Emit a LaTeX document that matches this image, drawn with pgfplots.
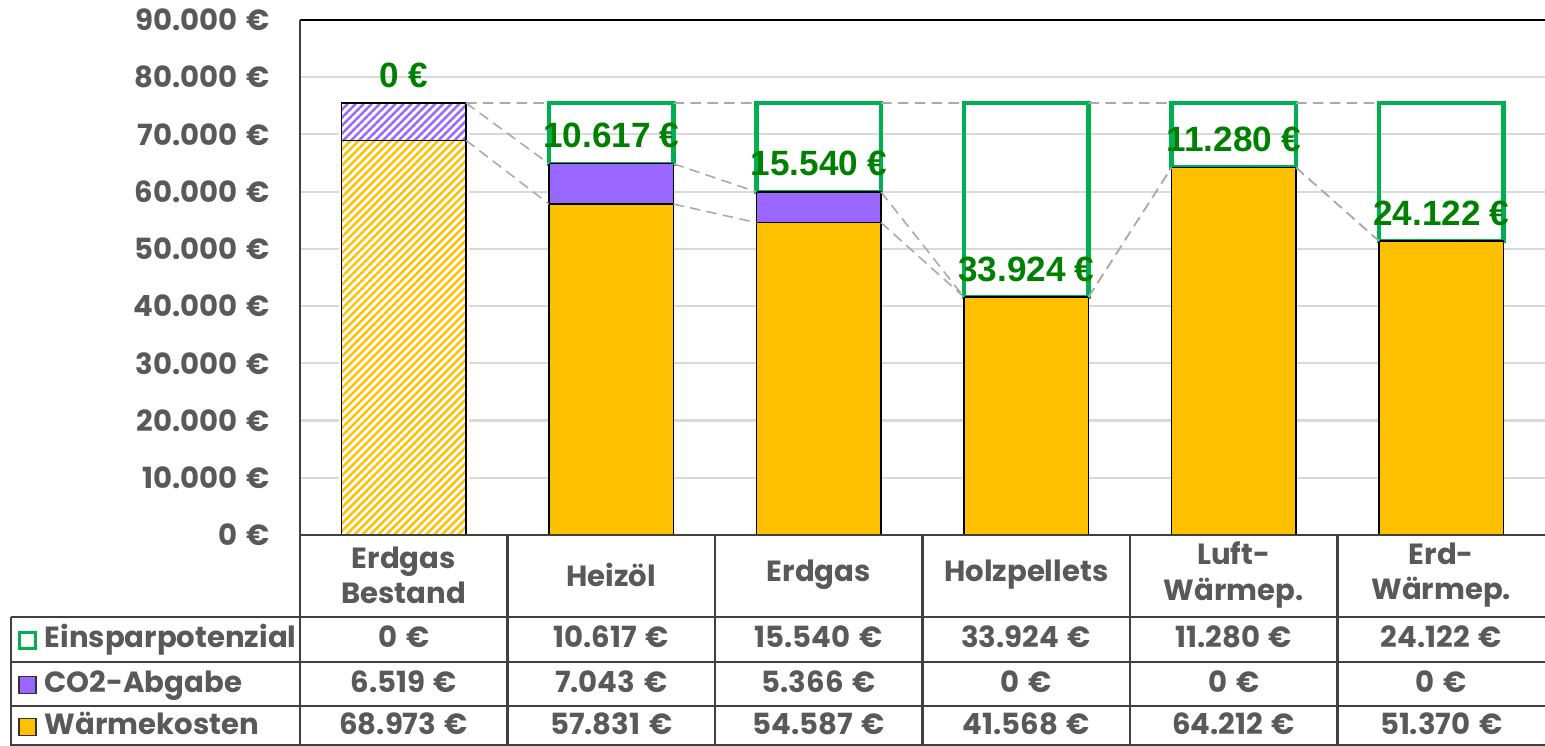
\documentclass[border=0pt]{standalone}
\usepackage{pgfplots}
\pgfplotsset{compat=1.18}
\usepackage{pgfplotstable}
\usetikzlibrary{patterns.meta}
\usepackage{fontspec}
\setmainfont{Poppins}
\newfontfamily\lblfont{Liberation Sans}

\definecolor{waerme}{RGB}{255,192,0}
\definecolor{co2}{RGB}{153,102,255}
\definecolor{einspar}{RGB}{0,176,80}
\definecolor{lblgreen}{RGB}{0,128,0}
\definecolor{txt}{RGB}{89,89,89}
\definecolor{gridc}{RGB}{217,217,217}
\definecolor{series}{RGB}{170,170,170}

% Wärmekosten, CO2-Abgabe, Einsparpotenzial
\pgfplotstableread{
x w c e
0 68973 6519 0
1 57831 7043 10617
2 54587 5366 15540
3 41568 0 33924
4 64212 0 11280
5 51370 0 24122
}\kosten

\pgfplotsset{
  base/.style={scale only axis, width=124.5mm, height=51.5mm,
    xmin=-0.5, xmax=5.5, ymin=0, ymax=90000, enlargelimits=false, clip=false},
}
\newcommand{\tfont}{\fontsize{8.3}{10}\selectfont\bfseries}
\newcommand{\eur}{\hspace{0.3em}€}

\begin{document}
\begin{tikzpicture}
\begin{axis}[base,
  axis line style={draw=none},
  xtick=\empty,
  ytick={0,10000,...,90000},
  scaled y ticks=false,
  ymajorgrids, grid style={gridc, line width=0.6pt},
  major tick length=0pt,
  yticklabel={\pgfmathprintnumber{\tick}\eur},
  yticklabel style={text=txt, font=\tfont, xshift=-1.8mm,
    /pgf/number format/fixed, /pgf/number format/1000 sep={.},
    /pgf/number format/assume math mode=true},
  ybar stacked, bar width=0.6,
]
\addplot[fill=waerme, draw=black, line width=0.4pt] table[x=x,y=w]{\kosten};
\addplot[fill=co2, draw=black, line width=0.4pt] table[x=x,y=c]{\kosten};
\addplot[fill=none, draw=einspar, line width=1.2pt] table[x=x,y=e]{\kosten};
\end{axis}

\begin{axis}[base, hide axis, unbounded coords=jump]
% Bestand: schraffiert
\addplot[ybar, bar width=0.6, bar shift=0pt, fill=white, draw=white, line width=1.6pt]
  table[x=x, y expr=\thisrow{w}+\thisrow{c}+\thisrow{e}, skip coords between index={1}{6}]{\kosten};
\addplot[ybar, bar width=0.6, bar shift=0pt, fill=white, draw=black, line width=0.4pt,
  postaction={pattern color=co2, pattern={Lines[angle=45,distance=1.6pt,line width=0.7pt]}}]
  table[x=x, y expr=\thisrow{w}+\thisrow{c}, skip coords between index={1}{6}]{\kosten};
\addplot[ybar, bar width=0.6, bar shift=0pt, fill=white, draw=black, line width=0.4pt,
  postaction={pattern color=waerme, pattern={Lines[angle=45,distance=1.6pt,line width=0.7pt]}}]
  table[x=x, y=w, skip coords between index={1}{6}]{\kosten};
% Reihenverbindungslinien
\addplot[series, line width=0.45pt, dash pattern=on 3pt off 1.8pt] coordinates {
  (0.3,68973) (0.7,57831) (1,nan) (1.3,57831) (1.7,54587) (2,nan)
  (2.3,54587) (2.7,41568) (3,nan) (3.3,41568) (3.7,64212) (4,nan)
  (4.3,64212) (4.7,51370)};
\addplot[series, line width=0.45pt, dash pattern=on 3pt off 1.8pt] coordinates {
  (0.3,75492) (0.7,64874) (1,nan) (1.3,64874) (1.7,59953) (2,nan)
  (2.3,59953) (2.7,41568) (3,nan) (3.3,41568) (3.7,64212) (4,nan)
  (4.3,64212) (4.7,51370)};
\addplot[series, line width=0.45pt, dash pattern=on 3pt off 1.8pt] coordinates {
  (0.3,75492) (0.7,75491) (1,nan) (1.3,75491) (1.7,75493) (2,nan)
  (2.3,75493) (2.7,75492) (3,nan) (3.3,75492) (3.7,75492) (4,nan)
  (4.3,75492) (4.7,75492)};
% Beschriftung Einsparpotenzial
\addplot[only marks, mark=none, point meta=\thisrow{e},
  nodes near coords={\pgfmathprintnumber[fixed,1000 sep={.},assume math mode=true]{\pgfplotspointmeta}\hspace{0.25em}€},
  nodes near coords align={center},
  every node near coord/.append style={anchor=center, text=lblgreen,
    font=\lblfont\fontsize{10}{12}\selectfont\bfseries}]
  table[x=x, y expr=\thisrow{w}+\thisrow{c}+4900]{\kosten};
\end{axis}

% Rahmen
\draw[black, line width=0.6pt] (0,51.5mm) -- (124.5mm,51.5mm);
\draw[black!75, line width=0.6pt] (0,0) -- (0,51.5mm);

% Datentabelle
\begin{scope}[line width=0.6pt, draw=black!75]
\draw (0,0) -- (124.5mm,0);
\foreach \yy in {-8.2,-12.7,-17.1,-21.0} \draw (-28.9mm,\yy mm) -- (124.5mm,\yy mm);
\foreach \xx in {0,20.75,41.5,62.25,83,103.75} \draw (\xx mm,0) -- (\xx mm,-21.1mm);
\draw (-28.9mm,-8.2mm) -- (-28.9mm,-21.1mm);
\end{scope}

\begin{scope}[every node/.style={text=txt, font=\tfont, align=center, inner sep=0pt}]
\foreach \lab [count=\i from 0] in {{Erdgas\\Bestand},Heizöl,Erdgas,Holzpellets,{Luft-\\Wärmep.},{Erd-\\Wärmep.}}
  \node at ({(\i+0.5)*20.75mm},-4.0mm) {\lab};
\end{scope}
\begin{scope}[every node/.style={text=txt, font=\tfont, inner sep=0pt, text height=2.1mm, text depth=0.6mm}]
\foreach \v [count=\i from 0] in {0,10.617,15.540,33.924,11.280,24.122}
  \node at ({(\i+0.5)*20.75mm},-10.55mm) {\v\eur};
\foreach \v [count=\i from 0] in {6.519,7.043,5.366,0,0,0}
  \node at ({(\i+0.5)*20.75mm},-15.0mm) {\v\eur};
\foreach \v [count=\i from 0] in {68.973,57.831,54.587,41.568,64.212,51.370}
  \node at ({(\i+0.5)*20.75mm},-19.2mm) {\v\eur};
\node[anchor=west] at (-25.6mm,-10.55mm) {Einsparpotenzial};
\node[anchor=west] at (-25.6mm,-15.0mm) {CO2-Abgabe};
\node[anchor=west] at (-25.6mm,-19.2mm) {Wärmekosten};
\end{scope}
\draw[einspar, line width=1.1pt] (-28.05mm,-11.35mm) rectangle (-26.45mm,-9.75mm);
\draw[black!80, fill=co2, line width=0.4pt] (-28.1mm,-15.85mm) rectangle (-26.4mm,-14.15mm);
\draw[black!80, fill=waerme, line width=0.4pt] (-28.1mm,-20.05mm) rectangle (-26.4mm,-18.35mm);

\pgfresetboundingbox
\path (-30mm,-21.1mm) rectangle (124.5mm,53.5mm);
\end{tikzpicture}
\end{document}
